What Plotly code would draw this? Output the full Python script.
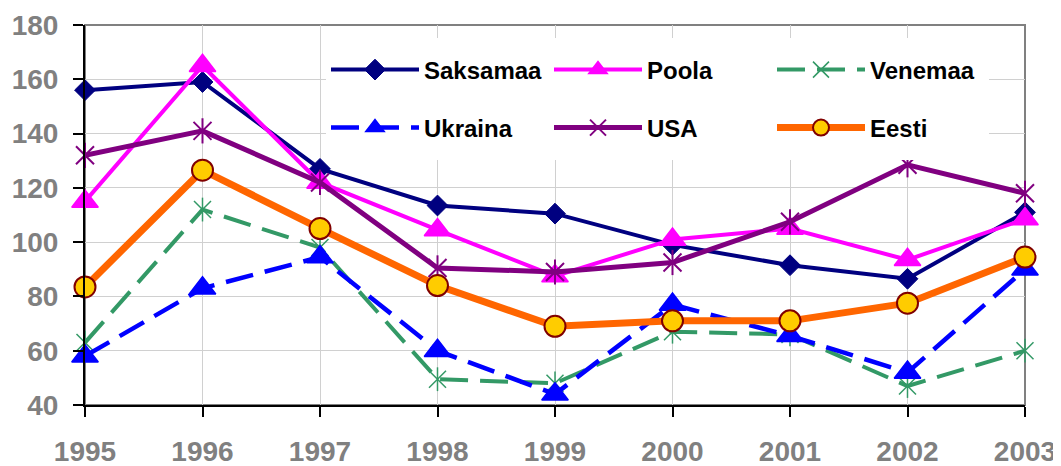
import plotly.graph_objects as go

years = [1995, 1996, 1997, 1998, 1999, 2000, 2001, 2002, 2003]
year_labels = [str(y) for y in years]

saksamaa = [156, 159, 127, 113.5, 110.5, 99, 91.5, 86.5, 111]
poola = [115, 165, 122, 104.5, 87.5, 101, 105, 93.5, 108.5]
venemaa = [63, 112, 98, 49.5, 48, 67, 66, 47, 60]
ukraina = [58, 83, 94.5, 60, 44, 77, 65.5, 52, 90]
usa = [132, 141, 122, 90.5, 89, 92.5, 107.5, 128.5, 118]
eesti = [83.5, 126.5, 105, 84, 69, 71, 71, 77.5, 94.5]

FONT = "Liberation Sans, Arial, sans-serif"

fig = go.Figure()

def add(name, y, color, width, dash, symbol, size, mline_color, mline_w, fill, legend):
    fig.add_trace(go.Scatter(
        x=years, y=y, name=name, mode="lines+markers", legend=legend,
        line=dict(color=color, width=width, dash=dash),
        marker=dict(symbol=symbol, size=size, color=fill,
                    line=dict(color=mline_color, width=mline_w)),
        cliponaxis=False,
    ))

def add_vbar(y, color, size, w, legend):
    fig.add_trace(go.Scatter(
        x=years, y=y, mode="markers", showlegend=False, legend=legend,
        marker=dict(symbol="line-ns-open", size=size, color=color,
                    line=dict(color=color, width=w)),
        cliponaxis=False, hoverinfo="skip",
    ))

add("Saksamaa", saksamaa, "#000080", 4, "solid", "diamond", 16, "#000080", 1, "#000080", "legend")
add("Poola", poola, "#FF00FF", 4, "solid", "triangle-up", 23, "#FF00FF", 1.5, "#FF00FF", "legend")
add("Venemaa", venemaa, "#339966", 4, "28px,12px", "x-thin-open", 17, "#339966", 1.5, "#339966", "legend")
add_vbar(venemaa, "#339966", 17, 1.5, "legend")
add("Ukraina", ukraina, "#0000FF", 4.5, "28px,12px", "triangle-up", 23, "#0000FF", 1.5, "#0000FF", "legend2")
add("USA", usa, "#800080", 5, "solid", "x-thin-open", 18, "#800080", 2, "#800080", "legend2")
add_vbar(usa, "#800080", 18, 2, "legend2")
add("Eesti", eesti, "#FF6600", 7, "solid", "circle", 21, "#800000", 2, "#FFCC00", "legend2")

# page has an 8px body margin: figure occupies page (8..1061, 8..466)
OFF = 8
W, H = 1061 - OFF, 466 - OFF
PL, PR, PT, PB = 85, 1025, 25, 405  # plot area in page pixels
L, R, T, B = PL - OFF, 1061 - PR, PT - OFF, 466 - PB
PW, PH = PR - PL, PB - PT

def px_x(p):
    return (p - PL) / PW

def px_y(p):
    return (PB - p) / PH

legend_common = dict(
    orientation="h", xanchor="left", yanchor="middle",
    bgcolor="rgba(0,0,0,0)", borderwidth=0,
    font=dict(family=FONT, size=24, color="black", weight="bold"),
    itemwidth=88, entrywidth=120, entrywidthmode="pixels",
    traceorder="normal", itemclick=False,
)

fig.update_layout(
    width=W, height=H,
    margin=dict(l=L, r=R, t=T, b=B, pad=0, autoexpand=False),
    paper_bgcolor="white", plot_bgcolor="white",
    font=dict(family=FONT),
    showlegend=True,
    legend=dict(x=px_x(326), y=px_y(70), **legend_common),
    legend2=dict(x=px_x(326), y=px_y(128), **legend_common),
    xaxis=dict(
        range=[years[0], years[-1]], tickvals=years, ticktext=year_labels,
        showgrid=True, gridcolor="#D0D0D0", gridwidth=1,
        showline=True, linecolor="black", linewidth=2,
        ticks="outside", ticklen=10, tickwidth=1.5, tickcolor="black",
        tickfont=dict(family=FONT, size=28, color="#808080", weight="bold"),
        ticklabelstandoff=10, zeroline=False, automargin=False,
    ),
    yaxis=dict(
        range=[40, 180], tickvals=[40, 60, 80, 100, 120, 140, 160, 180],
        showgrid=True, gridcolor="#D0D0D0", gridwidth=1,
        showline=True, linecolor="black", linewidth=2,
        ticks="outside", ticklen=10, tickwidth=1.5, tickcolor="black",
        tickfont=dict(family=FONT, size=28, color="#808080", weight="bold"),
        ticklabelstandoff=9, zeroline=False, automargin=False,
    ),
    shapes=[
        dict(type="rect", xref="paper", yref="paper", x0=0, x1=1, y0=0, y1=1,
             line=dict(color="#808080", width=2), fillcolor="rgba(0,0,0,0)", layer="below"),
        dict(type="rect", xref="paper", yref="paper",
             x0=px_x(326), x1=px_x(989), y0=px_y(160), y1=px_y(38),
             line=dict(width=0), fillcolor="white", layer="above"),
    ],
)

fig.write_html("out.html")
